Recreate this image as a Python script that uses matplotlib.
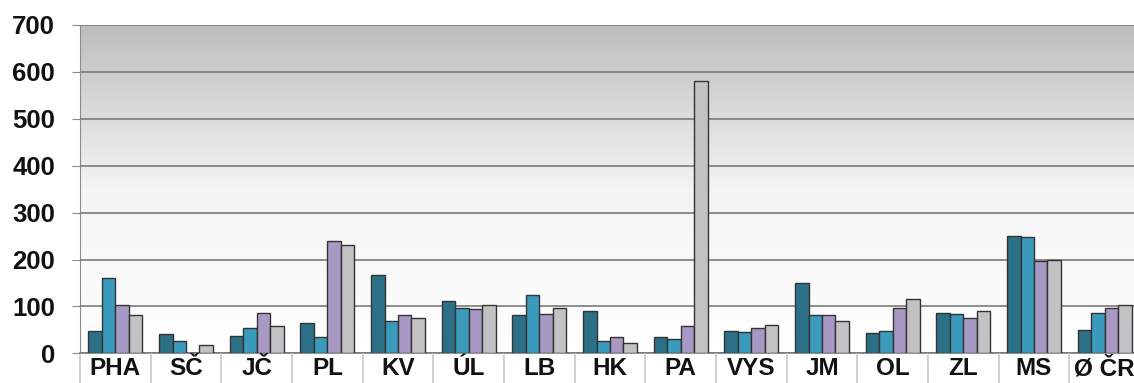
import numpy as np
import matplotlib.pyplot as plt
from matplotlib.colors import LinearSegmentedColormap

# categories (regions) and the four series
regions = ['PHA', 'SČ', 'JČ', 'PL', 'KV', 'ÚL', 'LB', 'HK', 'PA', 'VYS',
           'JM', 'OL', 'ZL', 'MS', 'Ø ČR']
s1 = [48, 42, 37, 64, 168, 111, 81, 91, 34, 47, 149, 43, 86, 250, 50]
s2 = [160, 26, 53, 34, 69, 96, 124, 26, 31, 45, 82, 47, 83, 247, 86]
s3 = [102, 0, 86, 239, 81, 95, 83, 34, 59, 53, 82, 97, 75, 196, 97]
s4 = [81, 18, 59, 231, 75, 102, 97, 23, 580, 61, 69, 116, 91, 198, 102]
series = [s1, s2, s3, s4]
colors = ['#2c7087', '#3a9bbd', '#a898c4', '#c2c2c4']

plt.rcParams['font.family'] = ['Liberation Sans', 'DejaVu Sans']

fig = plt.figure(figsize=(11.34, 3.83), dpi=100)
ax = fig.add_axes([80/1134, 29.7/383, 1060/1134, 328.3/383])

# background gradient: gray at top, white at bottom
grad = np.linspace(0, 1, 256).reshape(-1, 1)
cmap = LinearSegmentedColormap.from_list('bg', ['#ffffff', '#f4f4f4', '#bdbdbd'])
ax.imshow(grad, aspect='auto', cmap=cmap, origin='lower',
          extent=[-0.5, len(regions) - 0.5, 0, 700], zorder=0)

x = np.arange(len(regions))
w = 0.19
for i, (vals, c) in enumerate(zip(series, colors)):
    ax.bar(x + (i - 1.5) * w, vals, w, color=c, edgecolor='#333333',
           linewidth=1, zorder=3)

ax.set_xlim(-0.5, len(regions) - 0.5)
ax.set_ylim(0, 700)
ax.set_yticks(range(0, 701, 100))
ax.yaxis.grid(True, color='#7a7a7a', linewidth=1.2, zorder=1)
ax.set_axisbelow(False)

for s in ['top', 'right']:
    ax.spines[s].set_visible(False)
ax.spines['left'].set_color('#8a8a8a')
ax.spines['bottom'].set_color('#7a7a7a')
ax.spines['bottom'].set_linewidth(1.2)

ax.set_xticks(x)
ax.set_xticklabels(regions)
ax.set_xticks(np.arange(-0.5, len(regions)), minor=True)
ax.tick_params(axis='x', which='major', length=0, pad=3, labelsize=17.5)
ax.tick_params(axis='x', which='minor', length=30, color='#c8c8c8', width=1.2)
ax.tick_params(axis='y', length=6, color='#8a8a8a', pad=12, labelsize=18.5)
for lab in ax.get_xticklabels() + ax.get_yticklabels():
    lab.set_fontweight('bold')
    lab.set_color('#111111')

fig.savefig('out.png', dpi=100)
